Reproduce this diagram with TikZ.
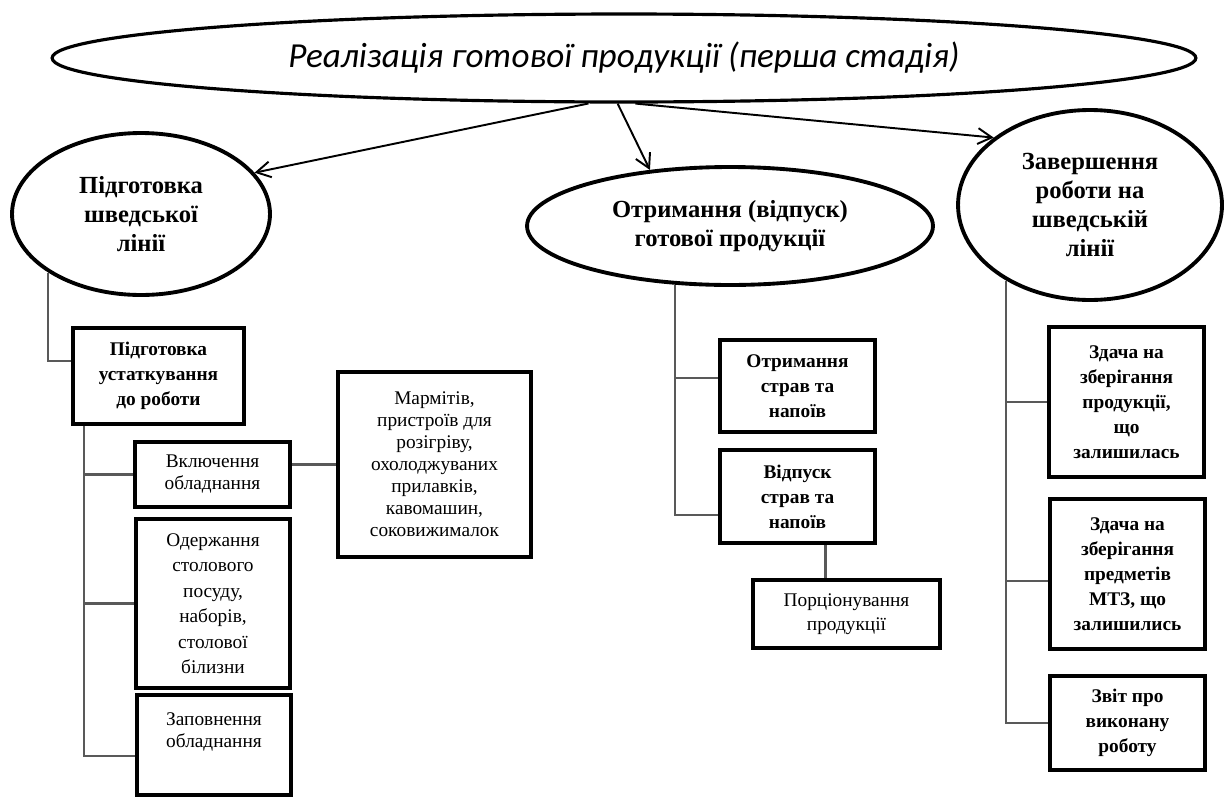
\documentclass[tikz,border=0pt]{standalone}
\usepackage{fontspec}
\setmainfont{Liberation Serif}
\newfontfamily\titlefont{Carlito}
\usetikzlibrary{shapes.geometric,arrows.meta}

\begin{document}
\begin{tikzpicture}[x=0.02cm,y=-0.02cm,
        oval/.style={draw,ellipse,line width=2.2pt,inner sep=0pt,align=center,font=\bfseries\fontsize{14}{16.5}\selectfont},
        box/.style={draw,rectangle,line width=2.3pt,inner sep=0pt,align=center,font=\bfseries\fontsize{11}{14.2}\selectfont},
        plain/.style={box,font=\mdseries\fontsize{11}{12.5}\selectfont},
        link/.style={line width=1.2pt,black!65},
        arr/.style={line width=1.1pt,-{Straight Barb[length=8pt,width=9pt]}}]
        \useasboundingbox (0,0) rectangle (1229,798);
        \node[draw,ellipse,line width=1.8pt,inner sep=0pt,minimum width=22.88cm,minimum height=1.76cm,font=\titlefont\itshape\fontsize{20}{24}\selectfont] (title) at (624,58) {Реалізація готової продукції (перша стадія)};
        \node[oval,minimum width=5.16cm,minimum height=3.24cm] (prep) at (141,214) {Підготовка\\шведської\\лінії};
        \node[oval,minimum width=8.12cm,minimum height=2.36cm] (recv) at (730,226) {Отримання (відпуск)\\готової продукції};
        \node[oval,minimum width=5.28cm,minimum height=3.8cm] (fin) at (1090,205) {Завершення\\роботи на\\шведській\\лінії};
        \node[box,minimum width=3.42cm,minimum height=1.92cm] (equip) at (158.5,376) {Підготовка\\устаткування\\до роботи};
        \node[plain,minimum width=3.1cm,minimum height=1.3cm] (on) at (212.5,474.5) {Включення\\обладнання};
        \node[plain,minimum width=3.08cm,minimum height=3.38cm,font=\mdseries\fontsize{11}{14.5}\selectfont] (get) at (213,603.5) {Одержання\\столового\\посуду,\\наборів,\\столової\\білизни};
        \node[plain,minimum width=3.08cm,minimum height=2cm,text depth=17pt] (fill) at (214,745) {Заповнення\\обладнання};
        \node[plain,minimum width=3.86cm,minimum height=3.7cm] (marm) at (434.5,464.5) {Мармітів,\\пристроїв для\\розігріву,\\охолоджуваних\\прилавків,\\кавомашин,\\соковижималок};
        \node[box,minimum width=3.1cm,minimum height=1.84cm] (rs) at (797.5,386) {Отримання\\страв та\\напоїв};
        \node[box,minimum width=3.1cm,minimum height=1.86cm] (rel) at (797.5,496.5) {Відпуск\\страв та\\напоїв};
        \node[plain,minimum width=3.74cm,minimum height=1.36cm,font=\mdseries\fontsize{11}{13.6}\selectfont] (port) at (846.5,614) {Порціонування\\продукції};
        \node[box,minimum width=3.1cm,minimum height=3cm] (st1) at (1126.5,402) {Здача на\\зберігання\\продукції,\\що\\залишилась};
        \node[box,minimum width=3.1cm,minimum height=3cm] (st2) at (1127.5,574) {Здача на\\зберігання\\предметів\\МТЗ, що\\залишились};
        \node[box,minimum width=3.1cm,minimum height=1.88cm] (rep) at (1127.5,723) {Звіт про\\виконану\\роботу};
        \draw[arr] (title.232) -- (prep.20);
        \draw[arr] (title.262) -- (recv.145);
        \draw[arr] (title.284) -- (fin.145);
        \draw[link] (prep.south west) |- (equip.170);
        \draw[link] (equip.214) |- (on.west) (equip.214) |- (get.west) (equip.214) |- (fill.188);
        \draw[link] (on.east |- marm.west) -- (marm.west);
        \draw[link] (recv.227) |- (rs.174) (recv.227) |- (rel.193);
        \draw[link] (rel.-60) -- (rel.-60 |- port.north);
        \draw[link] (fin.222) |- (st1.west) (fin.222) |- (st2.185) (fin.222) |- (rep.west);
    \end{tikzpicture}
\end{document}
